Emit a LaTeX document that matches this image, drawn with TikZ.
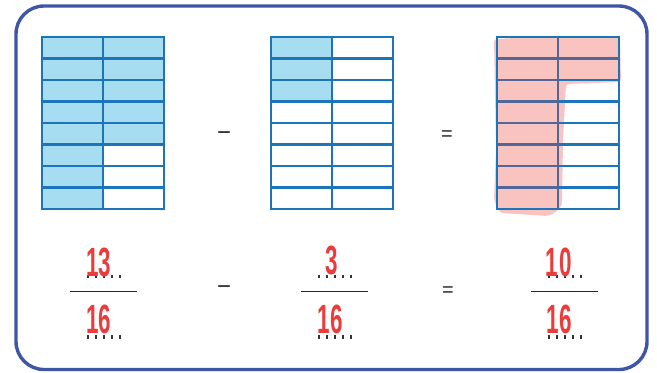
\documentclass[tikz,border=0pt]{standalone}
\usepackage{fontspec}
\setmainfont{Liberation Sans}
\definecolor{framecol}{HTML}{3E56A5}
\definecolor{gridcol}{HTML}{1C74BA}
\definecolor{gridgrey}{HTML}{4F6899}
\definecolor{lblue}{HTML}{A7DDF0}
\definecolor{pinkfill}{HTML}{F9C4C0}
\definecolor{redink}{HTML}{EC3B3B}
\tikzset{
  frameline/.style={draw=framecol, line width=3.4bp, rounded corners=28bp},
  gridline/.style={draw=gridcol, line width=2.3bp},
  greyline/.style={draw=gridgrey, line width=2.3bp},
  fracbar/.style={draw=black!85, line width=1.5bp},
  digit/.style={text=redink, font=\bfseries\fontsize{41}{41}\selectfont, anchor=base, inner sep=0pt},
  sign/.style={font=\fontsize{20}{20}\selectfont, inner sep=0pt, text=black!85},
  minus/.style={font=\fontsize{24}{24}\selectfont, inner sep=0pt, text=black!85},
  dotrow/.style={draw=black!80, line width=3.5bp, dash pattern=on 1.5bp off 6.5bp},
}
\newcommand\gridat[2]{%
  \foreach \r in {1,...,7} \draw[gridline] (#1,{#2+\r*21.5}) -- ++(122,0);
  \draw[gridline] ({#1+61},#2) -- ++(0,172);
  \draw[gridline] (#1,#2) rectangle ++(122,172);
}
\newcommand\hw[1]{\scalebox{0.55}[1]{#1}}
\begin{document}
\begin{tikzpicture}[x=1bp,y=-1bp]
\useasboundingbox (0,0) rectangle (657,372);
% frame
\draw[frameline] (16,6) rectangle (647,369.5);
% left grid 13/16
\fill[lblue] (42,37) rectangle (103,209);
\fill[lblue] (103,37) rectangle (164,{37+5*21.5});
\gridat{42}{37}
% middle grid 3/16
\fill[lblue] (271,37) rectangle (332,{37+3*21.5});
\gridat{271}{37}
% right grid 10/16 (pink)
\fill[pinkfill, rounded corners=3bp] (494,39) -- (558,36) -- (620,38) -- (621,82) -- (566,84)
   -- (563,140) -- (562,205) -- (556,212) -- (548,216) -- (500,213) -- (494,200) -- (496,150) -- cycle;
\gridat{497}{37}
\foreach \r in {1,...,7} \draw[greyline] (497,{37+\r*21.5}) -- (558,{37+\r*21.5});
\draw[greyline] (497,58.5) -- (619,58.5);
\draw[greyline] (558,37) -- (558,209);
% signs in top row
\node[minus] (m1) at (224,136.5) {−};
\node[sign] (e1) at (447,135.5) {=};
% fraction bars
\draw[fracbar] (70,291.5) -- (137,291.5);
\draw[fracbar] (301,291.5) -- (368,291.5);
\draw[fracbar] (531,291.5) -- (598,291.5);
% dotted lines
\foreach \x in {87,318,548} {
  \draw[dotrow] (\x,276.5) -- ++(34,0);
  \draw[dotrow] (\x,337) -- ++(34,0);
}
% digits
\node[digit] (n1) at (99,276) {\hw{13}};
\node[digit] (d1) at (99,333) {\hw{16}};
\node[digit] (n2) at (332,274) {\hw{3}};
\node[digit] (d2) at (330,333) {\hw{16}};
\node[digit] (n3) at (559,276) {\hw{1\kern3bp0}};
\node[digit] (d3) at (559,333) {\hw{16}};
% signs in bottom row
\node[minus] (m2) at (224,290.5) {−};
\node[sign] (e2) at (448,291.5) {=};
\end{tikzpicture}
\end{document}
